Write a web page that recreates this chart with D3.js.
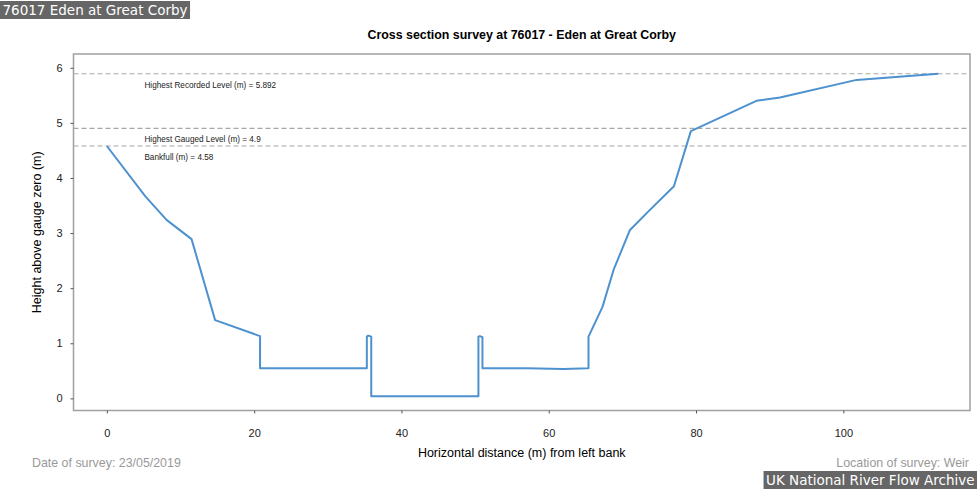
<!DOCTYPE html>
<html>
<head>
<meta charset="utf-8">
<script src="https://cdn.jsdelivr.net/npm/d3@7"></script>
<style>
  body { margin: 0; background: #fff; }
  svg { display: block; }
</style>
</head>
<body>
<svg id="chart" width="980" height="490"></svg>
<script>
// survey profile
var distance = [0, 5.2, 8.1, 11.5, 14.7, 20.8, 20.8, 35.3, 35.3, 35.5, 35.9, 35.9, 50.45, 50.45, 50.65, 51.0, 51.0,
  57, 62, 65.4, 65.4, 67.3, 68.8, 71.0, 73.5, 77.0, 79.3, 88.2, 91.4, 101.8, 112.9]
var level = [4.58, 3.67, 3.24, 2.89, 1.42, 1.13, 0.545, 0.545, 1.12, 1.14, 1.12, 0.04, 0.04, 1.12, 1.13, 1.11, 0.545,
  0.545, 0.535, 0.545, 1.12, 1.66, 2.33, 3.05, 3.39, 3.85, 4.85, 5.40, 5.46, 5.78, 5.892]
var levelValues = [5.892, 4.9, 4.58]
var levelNames = ['Highest Recorded Level (m) = 5.892', 'Highest Gauged Level (m) = 4.9', 'Bankfull (m) = 4.58']
var xTicks = [0, 20, 40, 60, 80, 100]
var yTicks = [0, 1, 2, 3, 4, 5, 6]

var svg = d3.select('#chart')
var plotLeft = 73.5
var plotRight = 970
var plotTop = 54
var plotBottom = 410.5
var font = 'Liberation Sans, Arial, sans-serif'

var x = d3.scaleLinear().domain([-4.53, 117.2]).range([plotLeft, plotRight])
var y = d3.scaleLinear().domain([-0.22, 6.25]).range([plotBottom, plotTop])

// frame
svg.append('rect')
  .attr('x', plotLeft).attr('y', plotTop)
  .attr('width', plotRight - plotLeft).attr('height', plotBottom - plotTop)
  .attr('fill', 'none').attr('stroke', '#a0a0a0').attr('stroke-width', 1.5)

var xAxis = svg.append('g')
  .attr('transform', 'translate(0,' + plotBottom + ')')
  .call(d3.axisBottom(x).tickValues(xTicks).tickSize(3).tickPadding(16).tickFormat(d3.format('d')))
var yAxis = svg.append('g')
  .attr('transform', 'translate(' + plotLeft + ',0)')
  .call(d3.axisLeft(y).tickValues(yTicks).tickSize(3).tickPadding(8).tickFormat(d3.format('d')))

;[xAxis, yAxis].forEach(function (g) {
  g.select('.domain').remove()
  g.selectAll('.tick line').attr('stroke', '#555')
  g.selectAll('.tick text').attr('fill', '#222').style('font-family', font).style('font-size', '11px')
})

// reference levels
levelValues.forEach(function (v, i) {
  svg.append('line')
    .attr('x1', plotLeft).attr('x2', plotRight)
    .attr('y1', y(v)).attr('y2', y(v))
    .attr('stroke', '#a8a8a8').attr('stroke-width', 1.2)
    .attr('stroke-dasharray', '5,3')
  svg.append('text')
    .attr('x', x(5.1)).attr('y', y(v) + 14)
    .attr('fill', '#222')
    .style('font-family', font).style('font-size', '8.2px')
    .text(levelNames[i])
})

var points = distance.map(function (d, i) { return [d, level[i]] })
svg.append('path')
  .datum(points)
  .attr('fill', 'none')
  .attr('stroke', '#4d92cf')
  .attr('stroke-width', 2)
  .attr('stroke-linejoin', 'round')
  .attr('d', d3.line().x(function (d) { return x(d[0]) }).y(function (d) { return y(d[1]) }))

// titles and labels
svg.append('text')
  .attr('x', (plotLeft + plotRight) / 2).attr('y', 39)
  .attr('text-anchor', 'middle')
  .style('font-family', font).style('font-size', '12.4px').style('font-weight', 'bold')
  .text('Cross section survey at 76017 - Eden at Great Corby')

svg.append('text')
  .attr('x', (plotLeft + plotRight) / 2).attr('y', 457)
  .attr('text-anchor', 'middle')
  .style('font-family', font).style('font-size', '12.5px')
  .text('Horizontal distance (m) from left bank')

svg.append('text')
  .attr('transform', 'translate(41,' + ((plotTop + plotBottom) / 2) + ') rotate(-90)')
  .attr('text-anchor', 'middle')
  .style('font-family', font).style('font-size', '12.5px')
  .text('Height above gauge zero (m)')

svg.append('text')
  .attr('x', 32).attr('y', 467)
  .attr('fill', '#999')
  .style('font-family', font).style('font-size', '12.4px')
  .text('Date of survey: 23/05/2019')

svg.append('text')
  .attr('x', 969).attr('y', 467)
  .attr('text-anchor', 'end')
  .attr('fill', '#999')
  .style('font-family', font).style('font-size', '12.4px')
  .text('Location of survey: Weir')

// badges, sized to their text
function badge (txt, bx, by, anchor) {
  var g = svg.append('g')
  var r = g.append('rect').attr('fill', '#666')
  var t = g.append('text')
    .attr('fill', '#fff')
    .style('font-family', 'DejaVu Sans, sans-serif').style('font-size', '13.5px')
    .text(txt)
  var w = t.node().getComputedTextLength() + 5
  var h = 18
  var rx = anchor === 'end' ? bx - w : bx
  r.attr('x', rx).attr('y', by).attr('width', w).attr('height', h)
  t.attr('x', rx + 2.5).attr('y', by + 14)
}
badge('76017 Eden at Great Corby', 0, 1, 'start')
badge('UK National River Flow Archive', 977, 471, 'end')
</script>
</body>
</html>
